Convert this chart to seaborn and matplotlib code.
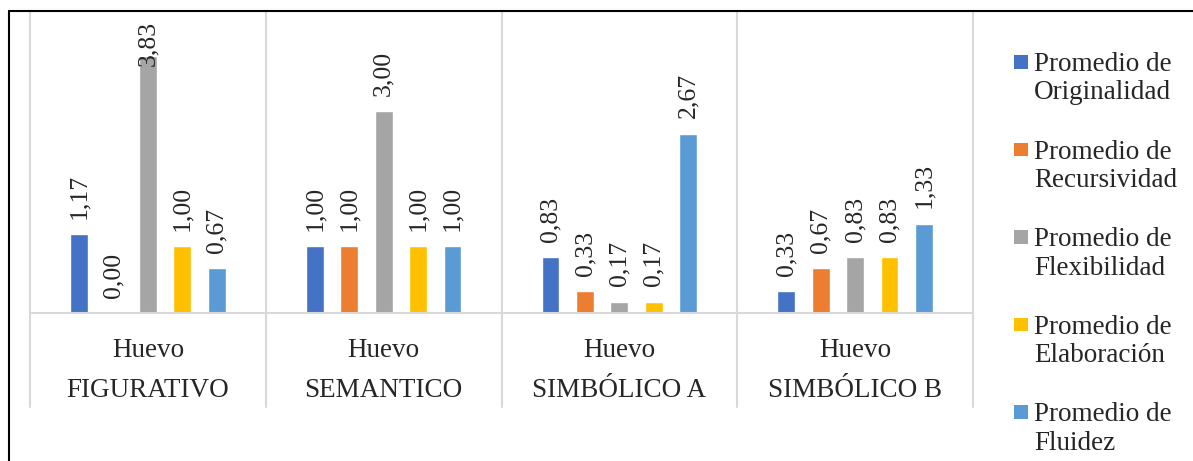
import matplotlib
matplotlib.use("Agg")
import matplotlib.pyplot as plt
import seaborn as sns
import pandas as pd
from matplotlib.lines import Line2D
from matplotlib.patches import Rectangle
from matplotlib.legend_handler import HandlerBase

groups = ["FIGURATIVO", "SEMANTICO", "SIMBÓLICO A", "SIMBÓLICO B"]
tick_label = "Huevo"
series = ["Promedio de\nOriginalidad", "Promedio de\nRecursividad", "Promedio de\nFlexibilidad",
          "Promedio de\nElaboración", "Promedio de\nFluidez"]
originalidad = [1.17, 1.00, 0.83, 0.33]
recursividad = [0.00, 1.00, 0.33, 0.67]
flexibilidad = [3.83, 3.00, 0.17, 0.83]
elaboracion = [1.00, 1.00, 0.17, 0.83]
fluidez = [0.67, 1.00, 2.67, 1.33]
colors = ["#4472C4", "#ED7D31", "#A5A5A5", "#FFC000", "#5B9BD5"]

values = [originalidad, recursividad, flexibilidad, elaboracion, fluidez]
rows = []
for s, vals in zip(series, values):
    for g, v in zip(groups, vals):
        rows.append({"grupo": g, "serie": s, "valor": v})
df = pd.DataFrame(rows)

sns.set_style("white")
plt.rcParams["font.family"] = ["Liberation Serif", "DejaVu Serif"]

W, H = 1193, 461
fig = plt.figure(figsize=(W / 100, H / 100), dpi=100)
ax = fig.add_axes([30 / W, 1 - 313 / H, 943 / W, 301 / H])

sns.barplot(data=df, x="grupo", y="valor", hue="serie", order=groups, hue_order=series,
            palette=colors, width=0.73, gap=0.48, ax=ax, legend=True, saturation=1,
            errorbar=None)

ax.set_xlim(-0.5, 3.5)
ax.set_ylim(0, 4.48)
ax.set_yticks([])
ax.set_xlabel("")
ax.set_ylabel("")
ax.set_xticks(range(len(groups)))
ax.set_xticklabels([tick_label] * len(groups), fontsize=19.5)
ax.tick_params(axis="x", length=0, pad=18)
for side in ["top", "right", "left"]:
    ax.spines[side].set_visible(False)
ax.spines["bottom"].set_color("#d9d9d9")
ax.spines["bottom"].set_linewidth(1.5)

pad = 11
anns = []
for cont, vals in zip(ax.containers, values):
    anns += ax.bar_label(cont, labels=[f"{v:.2f}".replace(".", ",") for v in vals],
                         rotation=90, padding=pad, fontsize=18.5)

trans = ax.get_xaxis_transform()
for i in range(len(groups) + 1):
    ax.add_line(Line2D([i - 0.5, i - 0.5], [1, -94 / 301], transform=trans,
                       color="#d9d9d9", lw=1.5, clip_on=False, zorder=0))
for i, g in enumerate(groups):
    ax.text(i, -77 / 301, g, transform=trans, ha="center", va="center", fontsize=19.5)


class TopSquare(HandlerBase):
    def create_artists(self, legend, orig_handle, xdescent, ydescent, width, height,
                       fontsize, trans):
        fc = orig_handle.get_facecolor()
        s = 0.5 * fontsize
        r = Rectangle((-xdescent, -ydescent + height / 2 + 0.62 * fontsize - s / 2), s, s,
                      facecolor=fc, edgecolor="none", transform=trans)
        return [r]


handles, labels = ax.get_legend_handles_labels()
ax.get_legend().remove()
leg = fig.legend(handles, labels, loc="upper left", bbox_to_anchor=(1014 / W, 1 - 52 / H),
                 frameon=False, fontsize=19.5, handlelength=0.5, handleheight=0.5,
                 handletextpad=0.25, labelspacing=1.26, borderpad=0, borderaxespad=0,
                 handler_map={h: TopSquare() for h in handles})
for t in leg.get_texts():
    t.set_linespacing(1.18)

fig.add_artist(Line2D([9 / W, 1], [1 - 11 / H, 1 - 11 / H], transform=fig.transFigure,
                      color="black", lw=1.5))
fig.add_artist(Line2D([9 / W, 9 / W], [0, 1 - 11 / H], transform=fig.transFigure,
                      color="black", lw=1.5))

# keep data labels inside the plot area, as the reference does
fig.canvas.draw()
renderer = fig.canvas.get_renderer()
limit = H - 21
for a in anns:
    bb = a.get_window_extent(renderer)
    if bb.y1 > limit:
        shift_pt = (bb.y1 - limit) * 72 / 100
        a.xyann = (0, pad - shift_pt)

fig.savefig("out.png", dpi=100)
